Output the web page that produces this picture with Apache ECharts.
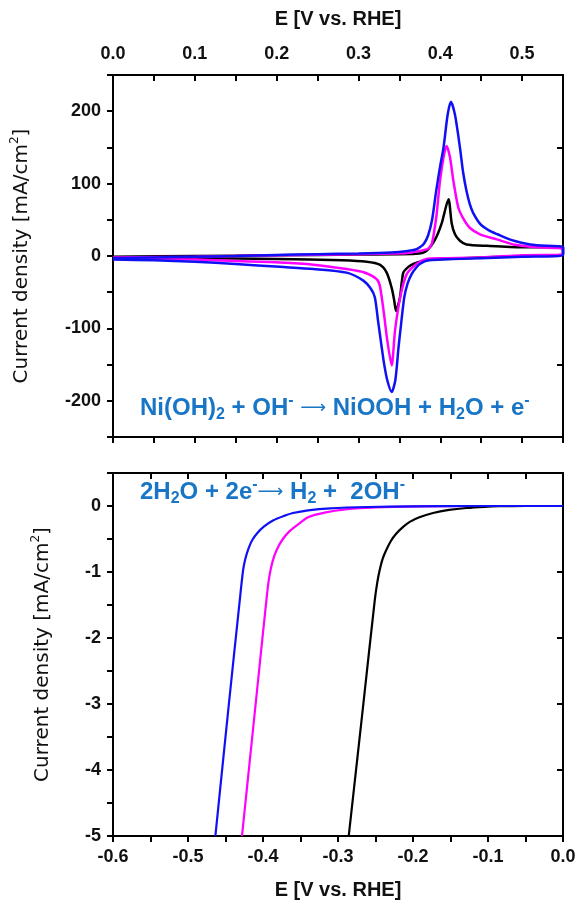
<!DOCTYPE html>
<html>
<head>
<meta charset="utf-8">
<script src="https://cdn.jsdelivr.net/npm/echarts@6/dist/echarts.min.js"></script>
<style>
html,body{margin:0;padding:0;background:#fff;}
#chart{width:579px;height:904px;}
</style>
</head>
<body>
<div id="chart"></div>
<script>
// ---- Top panel: cyclic voltammograms (E in V vs RHE, j in mA/cm2) ----
const cvBlueFwdE = [0, 0.05, 0.1, 0.15, 0.2, 0.25, 0.3, 0.34, 0.36, 0.37, 0.375, 0.38, 0.385, 0.39, 0.395, 0.4, 0.404, 0.409, 0.413, 0.418, 0.424, 0.428, 0.432, 0.436, 0.44, 0.449, 0.46, 0.47, 0.49, 0.51, 0.53, 0.55];
const cvBlueFwdJ = [-3, -2, -1, 0, 1.5, 2.5, 3.5, 5, 7, 9, 12, 17, 28, 50, 90, 125, 150, 195, 213, 195, 150, 115, 90, 72, 60, 44, 35, 30, 21, 16, 14, 13];
const cvBlueRevE = [0.55, 0.5, 0.45, 0.4, 0.385, 0.375, 0.37, 0.365, 0.36, 0.356, 0.352, 0.349, 0.345, 0.3406, 0.3353, 0.3315, 0.3284, 0.324, 0.32, 0.315, 0.306, 0.2856, 0.245, 0.204, 0.15, 0.1, 0.05, 0];
const cvBlueRevJ = [1, -1, -3, -5, -6, -11, -17, -25, -38, -57, -95, -126, -172, -188, -172, -150, -126, -90, -57, -45, -34, -23, -18, -15, -11, -8, -6, -5];

const cvMagFwdE = [0, 0.1, 0.2, 0.3, 0.36, 0.375, 0.385, 0.3895, 0.392, 0.3956, 0.3997, 0.4046, 0.4078, 0.4119, 0.416, 0.422, 0.4275, 0.436, 0.4486, 0.469, 0.489, 0.52, 0.55];
const cvMagFwdJ = [-2, -1, 1, 2.5, 4, 7, 10, 16.5, 30, 58, 104, 140, 152, 136, 104, 67, 53, 39, 30, 23, 16, 12, 9.6];
const cvMagRevE = [0.55, 0.5, 0.45, 0.4, 0.383, 0.371, 0.359, 0.351, 0.3447, 0.3406, 0.3353, 0.3312, 0.3263, 0.3222, 0.3065, 0.2856, 0.245, 0.204, 0.15, 0.1, 0.05, 0];
const cvMagRevJ = [2, 1, -2, -3, -4, -11, -25, -57, -103, -151, -117, -80, -42, -32, -22.5, -18, -12, -9, -7, -5, -4, -3];

const cvBlackFwdE = [0, 0.1, 0.2, 0.3, 0.37, 0.383, 0.3936, 0.4017, 0.41, 0.414, 0.418, 0.424, 0.432, 0.457, 0.5, 0.55];
const cvBlackFwdJ = [-1, 0, 1, 2, 3, 7, 22.5, 45, 78.5, 45, 30, 21, 16, 14, 12, 12];
const cvBlackRevE = [0.55, 0.5, 0.45, 0.42, 0.3915, 0.379, 0.367, 0.361, 0.3548, 0.3508, 0.348, 0.346, 0.3435, 0.3406, 0.3345, 0.326, 0.31, 0.28, 0.2, 0.1, 0];
const cvBlackRevJ = [3, 0, -2, -3.5, -5, -7, -11, -15, -23, -57, -70, -76, -60, -44, -23, -12, -8, -6, -4, -3, -2];

// ---- Bottom panel: HER polarization curves ----
const lsvBlueE = [-0.4635, -0.4455, -0.431, -0.4265, -0.4235, -0.4195, -0.4145, -0.4075, -0.3985, -0.3867, -0.372, -0.36, -0.34, -0.31, -0.26, -0.2, -0.12, 0];
const lsvBlueJ = [-5, -3, -1.43, -0.97, -0.8, -0.65, -0.52, -0.41, -0.31, -0.22, -0.15, -0.106, -0.065, -0.035, -0.015, -0.005, 0, 0];
const lsvMagE = [-0.428, -0.4098, -0.3955, -0.392, -0.3875, -0.3815, -0.3735, -0.3635, -0.351, -0.34, -0.318, -0.29, -0.25, -0.19, -0.12, 0];
const lsvMagJ = [-5, -3, -1.43, -1.1, -0.85, -0.66, -0.5, -0.37, -0.26, -0.17, -0.1, -0.05, -0.02, -0.005, 0, 0];
const lsvBlackE = [-0.2857, -0.2662, -0.251, -0.2475, -0.2444, -0.2405, -0.2358, -0.2295, -0.2225, -0.2135, -0.2044, -0.1915, -0.1733, -0.152, -0.1289, -0.105, -0.085, -0.05, 0];
const lsvBlackJ = [-5, -3, -1.43, -1.15, -0.97, -0.8, -0.67, -0.53, -0.42, -0.32, -0.24, -0.17, -0.106, -0.06, -0.03, -0.012, -0.004, 0, 0];

// ---- Texts ----
const xTitle = 'E [V vs. RHE]';
const yTitle = '{t|Current density [mA/cm}{s|2}{t|]}';
const eqTop = '{n|Ni(OH)}{sub|2}{n| + OH}{sup|-}{n| }{arr|\u27F6}{n| NiOOH + H}{sub|2}{n|O + e}{sup|-}';
const eqBottom = '{n|2H}{sub|2}{n|O + 2e}{sup|-}{arr|\u27F6}{n| H}{sub|2}{n| +  2OH}{sup|-}';

const zip = (a, b) => a.map((v, i) => [v, b[i]]);
const loop = (fe, fj, re, rj) => zip(fe, fj).concat(zip(re, rj));

const BLUE = '#1010F5', MAG = '#FF00FF', BLK = '#000000';
const ANN = '#1976C6';
const AX = { onZero: false, lineStyle: { color: '#000', width: 2 } };
const labelFont = { fontFamily: 'Liberation Sans', fontWeight: 'bold', fontSize: 18, color: '#111' };
const fmt1 = v => { const k = Math.round(v * 100); return k % 10 === 0 ? (k / 100).toFixed(1) : ''; };

const yNameStyle = {
  fontFamily: 'DejaVu Sans', fontSize: 20, color: '#111',
  rich: {
    t: { fontFamily: 'DejaVu Sans', fontSize: 20, color: '#111', lineHeight: 26 },
    s: { fontFamily: 'DejaVu Sans', fontSize: 12, color: '#111', verticalAlign: 'top', lineHeight: 14 }
  }
};
const xNameStyle = { fontFamily: 'Liberation Sans', fontWeight: 'bold', fontSize: 20, color: '#111' };

const annRich = {
  n: { fontFamily: 'Liberation Sans', fontWeight: 'bold', fontSize: 24, fill: ANN, lineHeight: 30 },
  sub: { fontFamily: 'Liberation Sans', fontWeight: 'bold', fontSize: 16, fill: ANN, lineHeight: 15, verticalAlign: 'bottom' },
  sup: { fontFamily: 'Liberation Sans', fontWeight: 'bold', fontSize: 16, fill: ANN, lineHeight: 22, verticalAlign: 'top' },
  arr: { fontFamily: 'DejaVu Sans', fontSize: 18, fill: ANN, lineHeight: 30 }
};

const tick = (inside) => ({ inside: inside, length: 6, lineStyle: { width: 2, color: '#000' } });

const chart = echarts.init(document.getElementById('chart'), null, { renderer: 'canvas' });
const option = {
  animation: false,
  backgroundColor: '#fff',
  grid: [
    { left: 113, top: 75, width: 450, height: 362 },
    { left: 113, top: 473, width: 450, height: 363 }
  ],
  xAxis: [
    { gridIndex: 0, type: 'value', position: 'top', min: 0, max: 0.55, interval: 0.05,
      axisLine: AX, axisTick: tick(true),
      axisLabel: Object.assign({ margin: 12, formatter: fmt1 }, labelFont),
      splitLine: { show: false },
      name: xTitle, nameLocation: 'middle', nameGap: 46, nameTextStyle: xNameStyle },
    { gridIndex: 0, type: 'value', position: 'bottom', min: 0, max: 0.55, interval: 0.05,
      axisLine: AX, axisTick: tick(false),
      axisLabel: { show: false }, splitLine: { show: false } },
    { gridIndex: 1, type: 'value', position: 'bottom', min: -0.6, max: 0, interval: 0.05,
      axisLine: AX, axisTick: tick(false),
      axisLabel: Object.assign({ margin: 12, formatter: fmt1 }, labelFont),
      splitLine: { show: false },
      name: xTitle, nameLocation: 'middle', nameGap: 44, nameTextStyle: xNameStyle },
    { gridIndex: 1, type: 'value', position: 'top', min: -0.6, max: 0, interval: 0.05,
      axisLine: AX, axisTick: tick(true),
      axisLabel: { show: false }, splitLine: { show: false } }
  ],
  yAxis: [
    { gridIndex: 0, type: 'value', position: 'left', min: -250, max: 250, interval: 50,
      axisLine: AX, axisTick: tick(false),
      axisLabel: Object.assign({ margin: 12, formatter: v => (Math.round(v) % 100 === 0 ? String(Math.round(v)) : '') }, labelFont),
      splitLine: { show: false },
      name: yTitle, nameLocation: 'middle', nameRotate: 90, nameGap: 78, nameTextStyle: yNameStyle },
    { gridIndex: 0, type: 'value', position: 'right', min: -250, max: 250, interval: 100,
      axisLine: AX, axisTick: tick(true),
      axisLabel: { show: false }, splitLine: { show: false } },
    { gridIndex: 1, type: 'value', position: 'left', min: -5, max: 0.5, interval: 0.5,
      axisLine: AX, axisTick: tick(false),
      axisLabel: Object.assign({ margin: 12, formatter: v => (Math.abs(v - Math.round(v)) < 1e-9 ? String(Math.round(v)) : '') }, labelFont),
      splitLine: { show: false },
      name: yTitle, nameLocation: 'middle', nameRotate: 90, nameGap: 57, nameTextStyle: yNameStyle },
    { gridIndex: 1, type: 'value', position: 'right', min: -5, max: 0.5, interval: 1,
      axisLine: AX, axisTick: tick(true),
      axisLabel: { show: false }, splitLine: { show: false } }
  ],
  series: [
    { type: 'line', xAxisIndex: 0, yAxisIndex: 0, data: loop(cvBlackFwdE, cvBlackFwdJ, cvBlackRevE, cvBlackRevJ),
      showSymbol: false, smooth: 0.25, lineStyle: { color: BLK, width: 2.5 }, itemStyle: { color: BLK } },
    { type: 'line', xAxisIndex: 0, yAxisIndex: 0, data: loop(cvMagFwdE, cvMagFwdJ, cvMagRevE, cvMagRevJ),
      showSymbol: false, smooth: 0.25, lineStyle: { color: MAG, width: 2.5 }, itemStyle: { color: MAG } },
    { type: 'line', xAxisIndex: 0, yAxisIndex: 0, data: loop(cvBlueFwdE, cvBlueFwdJ, cvBlueRevE, cvBlueRevJ),
      showSymbol: false, smooth: 0.25, lineStyle: { color: BLUE, width: 2.5 }, itemStyle: { color: BLUE } },
    { type: 'line', xAxisIndex: 2, yAxisIndex: 2, data: zip(lsvBlackE, lsvBlackJ),
      showSymbol: false, smooth: 0.3, lineStyle: { color: BLK, width: 2.2 }, itemStyle: { color: BLK } },
    { type: 'line', xAxisIndex: 2, yAxisIndex: 2, data: zip(lsvMagE, lsvMagJ),
      showSymbol: false, smooth: 0.3, lineStyle: { color: MAG, width: 2.2 }, itemStyle: { color: MAG } },
    { type: 'line', xAxisIndex: 2, yAxisIndex: 2, data: zip(lsvBlueE, lsvBlueJ),
      showSymbol: false, smooth: 0.3, lineStyle: { color: BLUE, width: 2.2 }, itemStyle: { color: BLUE } }
  ],
  graphic: [
    { type: 'text', x: 140, y: 408, z: 100,
      style: { text: eqTop, rich: annRich, align: 'left', verticalAlign: 'middle' } },
    { type: 'text', x: 140, y: 492, z: 100,
      style: { text: eqBottom, rich: annRich, align: 'left', verticalAlign: 'middle' } }
  ]
};
chart.setOption(option);
</script>
</body>
</html>
